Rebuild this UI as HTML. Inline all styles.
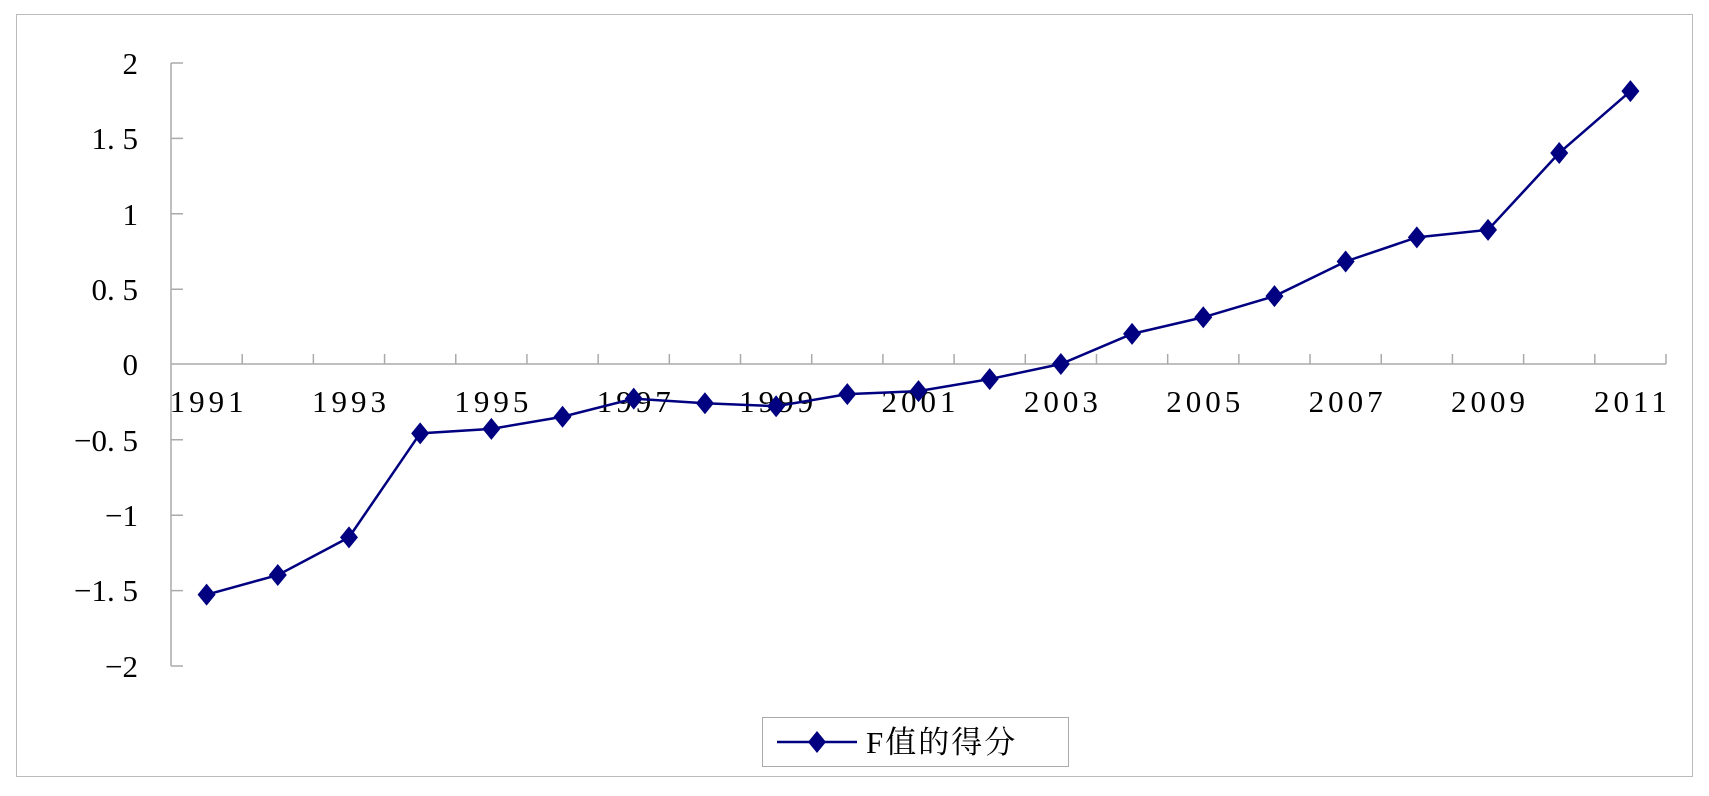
<!DOCTYPE html>
<html><head><meta charset="utf-8"><style>
body{margin:0;background:#fff}
svg text{font-family:"Liberation Serif","Noto Serif CJK SC",serif;fill:#000}
</style></head><body>
<svg width="1709" height="791" xmlns="http://www.w3.org/2000/svg">
<rect x="16.5" y="14.5" width="1676" height="762" fill="#fff" stroke="#bbb" stroke-width="1"/>
<g stroke="#aaa" stroke-width="1.5" fill="none">
<line x1="171" y1="63" x2="171" y2="666"/>
<line x1="171" y1="364" x2="1666" y2="364"/>
<path d="M171 63h12M171 138.4h12M171 213.8h12M171 289.2h12M171 439.8h12M171 515.2h12M171 590.6h12M171 666h12"/>
</g>
<g id="xticks" stroke="#aaa" stroke-width="1.5"></g>
<g font-size="31" text-anchor="end">
<text x="138" y="74">2</text>
<text x="138" y="149">1. 5</text>
<text x="138" y="225">1</text>
<text x="138" y="300">0. 5</text>
<text x="138" y="375">0</text>
<text x="138" y="451">−0. 5</text>
<text x="138" y="526">−1</text>
<text x="138" y="601">−1. 5</text>
<text x="138" y="677">−2</text>
</g>
<g id="xl" font-size="31" text-anchor="middle" letter-spacing="4"></g>
<polyline id="ln" fill="none" stroke="#000080" stroke-width="2.5"/>
<g id="mk" fill="#000080"></g>
<rect x="762.5" y="717.5" width="306" height="49" fill="#fff" stroke="#aaa"/>
<line x1="777" y1="742" x2="857" y2="742" stroke="#000080" stroke-width="2.5"/>
<path d="M817 731l9 11-9 11-9-11z" fill="#000080"/>
<text x="866" y="753" font-size="31" letter-spacing="2">F值的得分</text>
</svg>
<script>
var v=[-1.53,-1.40,-1.15,-0.46,-0.43,-0.35,-0.23,-0.26,-0.28,-0.20,-0.18,-0.10,0,0.20,0.31,0.45,0.68,0.84,0.89,1.40,1.81];
var ns="http://www.w3.org/2000/svg",w=(1666-171)/21,pts=[];
var xt=document.getElementById('xticks'),xl=document.getElementById('xl'),mk=document.getElementById('mk');
for(var i=1;i<=21;i++){var l=document.createElementNS(ns,'line');var x=171+i*w;l.setAttribute('x1',x);l.setAttribute('x2',x);l.setAttribute('y1',354);l.setAttribute('y2',364);xt.appendChild(l);}
v.forEach(function(d,i){var x=171+w/2+i*w,y=364-d*150.75;pts.push(x+','+y);
var p=document.createElementNS(ns,'path');p.setAttribute('d','M'+x+' '+(y-11)+'l9 11-9 11-9-11z');mk.appendChild(p);
if(i%2==0){var t=document.createElementNS(ns,'text');t.setAttribute('x',x+2);t.setAttribute('y',412);t.textContent=1991+i;xl.appendChild(t);}});
document.getElementById('ln').setAttribute('points',pts.join(' '));
</script>
</body></html>
